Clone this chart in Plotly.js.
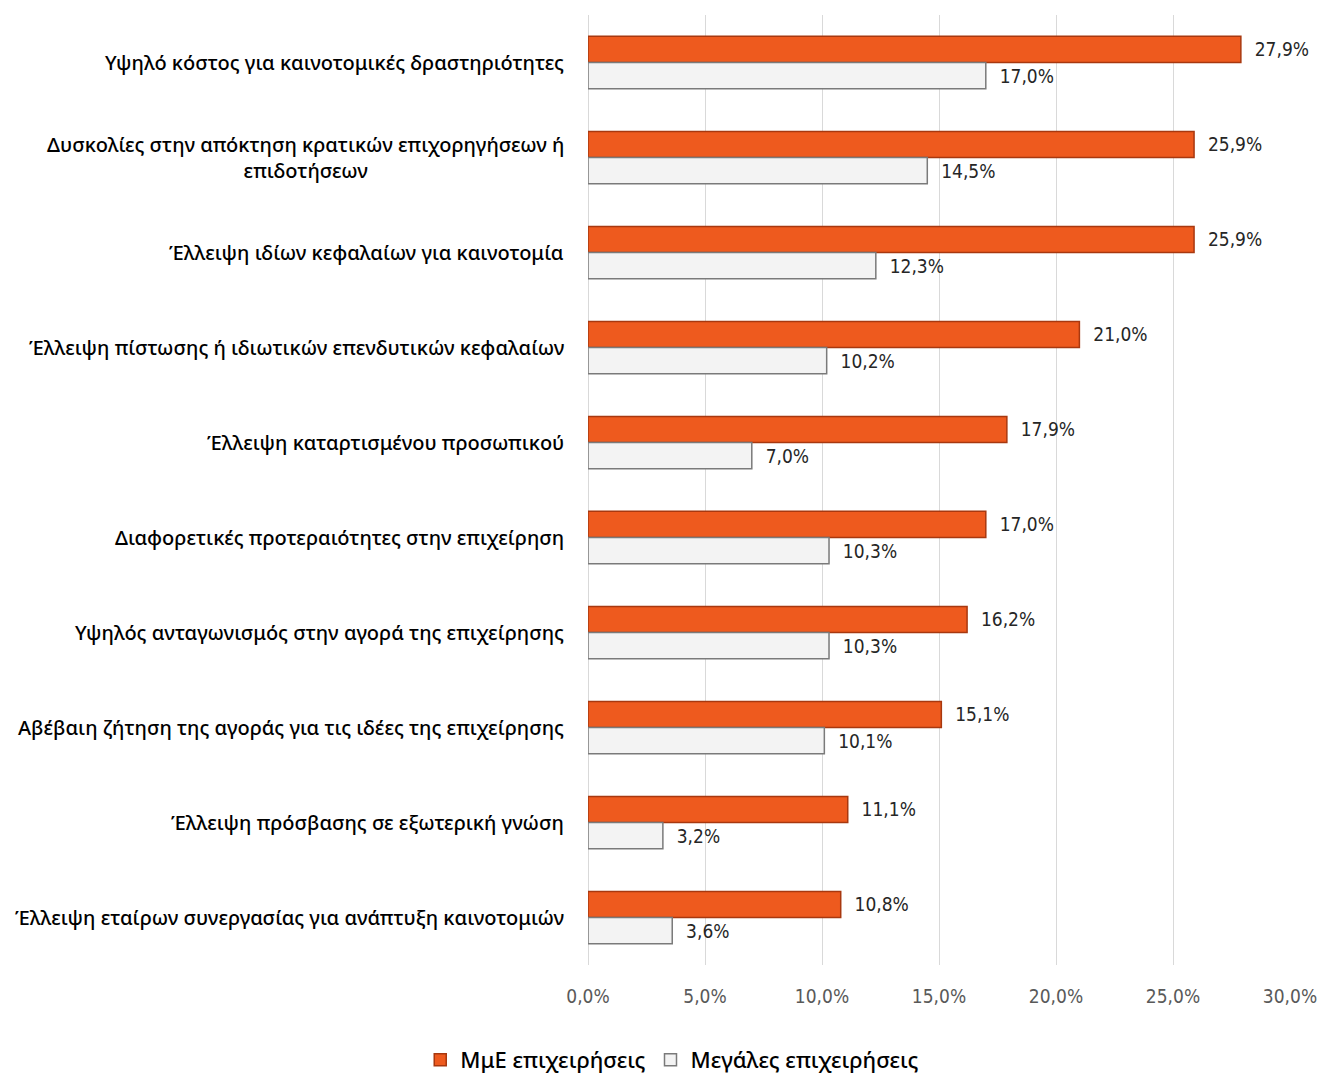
<!DOCTYPE html>
<html>
<head>
<meta charset="utf-8">
<script src="https://cdn.plot.ly/plotly-3.0.1.min.js"></script>
<style>html,body{margin:0;padding:0;background:#fff;}</style>
</head>
<body>
<div id="chart" style="width:1320px;height:1074px;"></div>
<script>
const categories = [
  "Υψηλό κόστος για καινοτομικές δραστηριότητες",
  "Δυσκολίες στην απόκτηση κρατικών επιχορηγήσεων ή<br>επιδοτήσεων",
  "Έλλειψη ιδίων κεφαλαίων για καινοτομία",
  "Έλλειψη πίστωσης ή ιδιωτικών επενδυτικών κεφαλαίων",
  "Έλλειψη καταρτισμένου προσωπικού",
  "Διαφορετικές προτεραιότητες στην επιχείρηση",
  "Υψηλός ανταγωνισμός στην αγορά της επιχείρησης",
  "Αβέβαιη ζήτηση της αγοράς για τις ιδέες της επιχείρησης",
  "Έλλειψη πρόσβασης σε εξωτερική γνώση",
  "Έλλειψη εταίρων συνεργασίας για ανάπτυξη καινοτομιών"
];
const smeValues = [27.9, 25.9, 25.9, 21.0, 17.9, 17.0, 16.2, 15.1, 11.1, 10.8];
const largeValues = [17.0, 14.5, 12.3, 10.2, 7.0, 10.3, 10.3, 10.1, 3.2, 3.6];
const seriesNames = ["ΜμΕ επιχειρήσεις", "Μεγάλες επιχειρήσεις"];
const tickValues = [0, 5, 10, 15, 20, 25, 30];
const tickLabels = ["0,0%", "5,0%", "10,0%", "15,0%", "20,0%", "25,0%", "30,0%"];

const fmt = v => "\u00a0\u00a0" + v.toFixed(1).replace(".", ",") + "%";
const ids = categories.map((c, i) => "c" + i);
const condensed = "DejaVu Sans Condensed, Roboto, sans-serif";

const traces = [
  {
    type: "bar", orientation: "h", name: seriesNames[0],
    y: ids, x: smeValues,
    text: smeValues.map(fmt), textposition: "outside", cliponaxis: false,
    textfont: {family: condensed, size: 19, color: "#262626"},
    marker: {color: "#EE5A1E", line: {color: "#A8380F", width: 1.5}},
    hoverinfo: "x"
  },
  {
    type: "bar", orientation: "h", name: seriesNames[1],
    y: ids, x: largeValues,
    text: largeValues.map(fmt), textposition: "outside", cliponaxis: false,
    textfont: {family: condensed, size: 19, color: "#262626"},
    marker: {color: "#F3F3F3", line: {color: "#7A7A7A", width: 1.5}},
    hoverinfo: "x"
  }
];

const annotations = categories.map((c, i) => ({
  xref: "paper", yref: "y", x: 0, y: ids[i], xanchor: "right", yanchor: "middle",
  xshift: -22, text: c, showarrow: false, align: "center",
  font: {family: "Noto Sans, Roboto, sans-serif", size: 20, weight: 500, color: "#000"}
}));

const layout = {
  width: 1320, height: 1074,
  margin: {l: 588, r: 30, t: 15, b: 109, autoexpand: false},
  paper_bgcolor: "#fff", plot_bgcolor: "#fff",
  barmode: "group", bargap: 0.45, bargroupgap: 0,
  showlegend: true,
  legend: {
    orientation: "h", x: 0.12, xanchor: "center", y: -0.1, yanchor: "middle",
    font: {family: "Noto Sans, Roboto, sans-serif", size: 22, weight: 500, color: "#000"},
    itemwidth: 30
  },
  xaxis: {
    range: [0, 30], tickvals: tickValues, ticktext: tickLabels,
    showgrid: true, gridcolor: "#D9D9D9", gridwidth: 1,
    zeroline: true, zerolinecolor: "#D9D9D9", zerolinewidth: 1,
    showline: false, ticks: "", ticklabelstandoff: 18,
    tickfont: {family: condensed, size: 19, color: "#595959"},
    fixedrange: true
  },
  yaxis: {
    type: "category", categoryorder: "array", categoryarray: ids,
    autorange: "reversed", showticklabels: false, showgrid: false,
    zeroline: false, ticks: "", fixedrange: true
  },
  annotations: annotations
};

Plotly.newPlot("chart", traces, layout, {displayModeBar: false, staticPlot: true});
</script>
</body>
</html>
